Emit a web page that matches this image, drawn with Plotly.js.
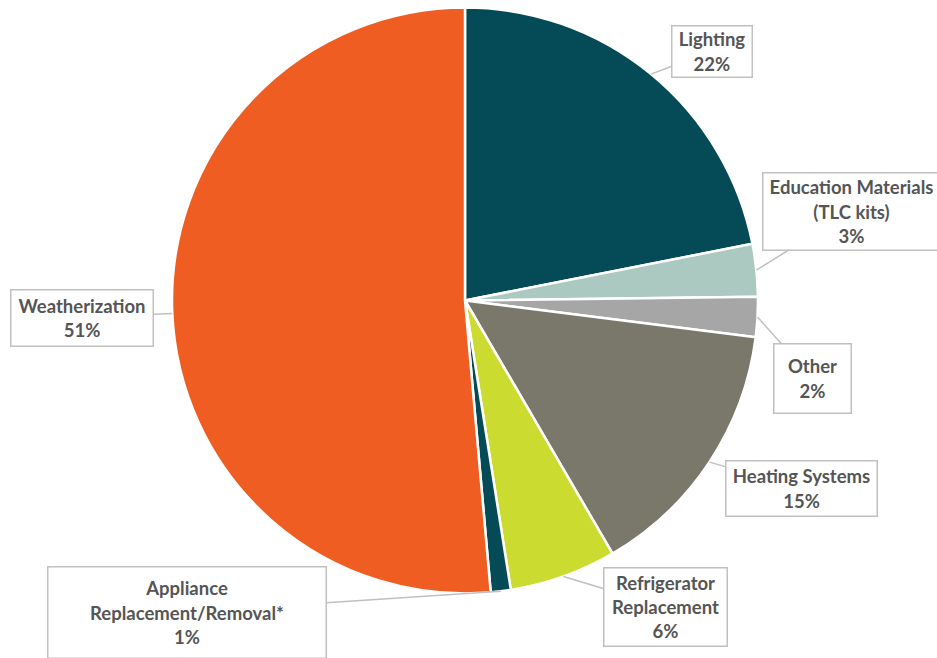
<!DOCTYPE html>
<html>
<head>
<meta charset="utf-8">
<script src="https://cdn.plot.ly/plotly-3.0.1.min.js"></script>
<style>html,body{margin:0;padding:0;background:#fff;}#chart{width:937px;height:658px;}</style>
</head>
<body>
<div id="chart"></div>
<script>
const categories = ["Lighting", "Education Materials (TLC kits)", "Other", "Heating Systems", "Refrigerator Replacement", "Appliance Replacement/Removal*", "Weatherization"];
const labelTexts = ["Lighting<br>22%", "Education Materials<br>(TLC kits)<br>3%", "Other<br>2%", "Heating Systems<br>15%", "Refrigerator<br>Replacement<br>6%", "Appliance<br>Replacement/Removal*<br>1%", "Weatherization<br>51%"];
const values = [21.9, 2.9, 2.2, 14.6, 5.9, 1.1, 51.4];
const colors = ["#054b57", "#abc9c1", "#a6a6a6", "#79786b", "#cbdb2f", "#054b57", "#f05d23"];

// layout: pie geometry (pixels) and label box centres / sizes (pixels)
const W = 937, H = 658;
const cx = 465, cy = 300.5, R = 293;
const boxes = [
  {x: 712, y: 51, w: 73, h: 44},
  {x: 851, y: 211, w: 170, h: 70},
  {x: 812, y: 378, w: 70, h: 62},
  {x: 801, y: 488, w: 144, h: 48},
  {x: 665, y: 607, w: 116, h: 71},
  {x: 187, y: 612, w: 271, h: 84},
  {x: 82, y: 318, w: 135, h: 49}
];

const total = values.reduce((a, b) => a + b, 0);
let cum = 0;
const annotations = values.map((v, i) => {
  const mid = (cum + v / 2) / total * 2 * Math.PI;
  cum += v;
  const tx = cx + R * Math.sin(mid);
  const ty = cy - R * Math.cos(mid);
  const b = boxes[i];
  return {
    xref: "paper", yref: "paper",
    x: tx / W, y: 1 - ty / H,
    ax: b.x - tx, ay: b.y - ty,
    axref: "pixel", ayref: "pixel",
    text: "<b>" + labelTexts[i] + "</b>",
    showarrow: true, arrowhead: 0, arrowwidth: 1.5, arrowcolor: "#c0c0c0",
    standoff: 0,
    bordercolor: "#c0c0c0", borderwidth: 1.5, borderpad: 3,
    bgcolor: "#ffffff",
    width: b.w, height: b.h,
    align: "center", valign: "middle",
    font: {family: "Lato, 'Open Sans', sans-serif", size: 18.5, color: "#555555"}
  };
});

const trace = {
  type: "pie",
  labels: categories,
  values: values,
  sort: false,
  direction: "clockwise",
  rotation: 0,
  textinfo: "none",
  hoverinfo: "label+percent",
  marker: {colors: colors, line: {color: "#ffffff", width: 2.5}},
  domain: {x: [(cx - R) / W, (cx + R) / W], y: [1 - (cy + R) / H, 1 - (cy - R) / H]},
  showlegend: false
};

Plotly.newPlot("chart", [trace], {
  width: W, height: H,
  margin: {l: 0, r: 0, t: 0, b: 0},
  paper_bgcolor: "#ffffff",
  showlegend: false,
  annotations: annotations
}, {displayModeBar: false, staticPlot: true});
</script>
</body>
</html>
